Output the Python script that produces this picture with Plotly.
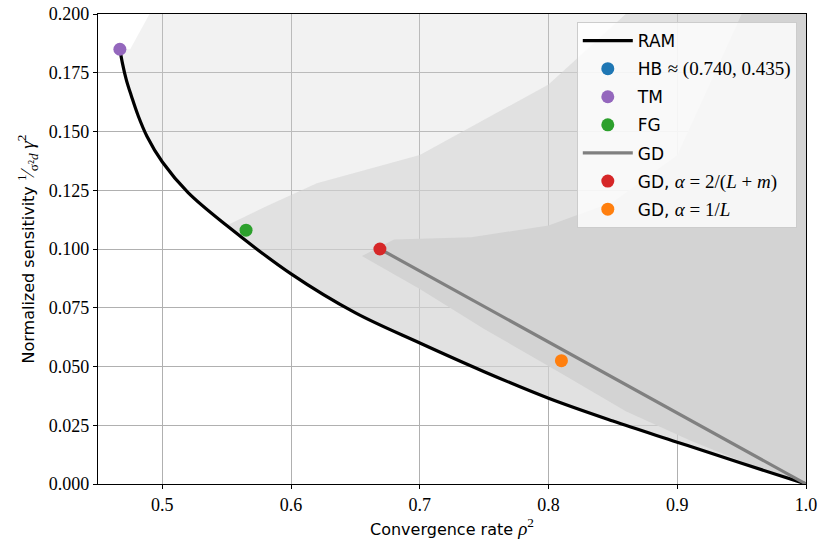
import plotly.graph_objects as go

# RAM frontier
ram_x = [0.467, 0.469, 0.472, 0.476, 0.481, 0.488, 0.500, 0.520, 0.550, 0.600,
         0.650, 0.700, 0.750, 0.800, 0.850, 0.900, 0.950, 1.000]
ram_y = [0.185, 0.179, 0.172, 0.165, 0.157, 0.148, 0.137, 0.124, 0.110, 0.0894,
         0.0728, 0.0600, 0.0478, 0.0365, 0.0268, 0.0178, 0.0088, 0.0]

# GD line
gd_x = [0.669, 1.0]
gd_y = [0.100, 0.0]

# Named points
hb_pt = (0.740, 0.435)
tm_pt = (0.467, 0.185)
fg_pt = (0.565, 0.108)
gd_opt_pt = (0.669, 0.100)
gd_L_pt = (0.810, 0.0525)

# Random-algorithm cloud, approximated by density regions (outlines)
sparse_x = ram_x + [1.0, 0.49, 0.475]
sparse_y = ram_y + [0.2, 0.2, 0.185]

medium_x = [0.55, 0.600, 0.650, 0.700, 0.750, 0.800, 0.850, 0.900, 0.950, 1.0,
            1.0, 0.86, 0.8, 0.7, 0.62, 0.58]
medium_y = [0.110, 0.0894, 0.0728, 0.0600, 0.0478, 0.0365, 0.0268, 0.0178, 0.0088, 0.0,
            0.2, 0.2, 0.17, 0.14, 0.128, 0.118]

dense_x = [0.655, 0.70, 0.75, 0.81, 0.86, 0.91, 0.96, 1.0, 1.0, 0.95, 0.90, 0.85, 0.80, 0.74, 0.68]
dense_y = [0.097, 0.083, 0.066, 0.047, 0.031, 0.0185, 0.0075, 0.0, 0.2, 0.2, 0.14, 0.12, 0.11, 0.105, 0.104]

SERIF = "Liberation Serif"
SANS = "DejaVu Sans"

def math(s):
    return "<span style=\"font-family:'%s';font-size:19px\">%s</span>" % (SERIF, s)

fig = go.Figure()

fig.add_trace(go.Scatter(x=sparse_x, y=sparse_y, fill="toself", mode="none",
                         fillcolor="rgba(211,211,211,0.3)", showlegend=False, hoverinfo="skip"))
fig.add_trace(go.Scatter(x=medium_x, y=medium_y, fill="toself", mode="none",
                         fillcolor="rgba(211,211,211,0.55)", showlegend=False, hoverinfo="skip"))
fig.add_trace(go.Scatter(x=dense_x, y=dense_y, fill="toself", mode="none",
                         fillcolor="rgba(211,211,211,1)", showlegend=False, hoverinfo="skip"))

MS = 13
fig.add_trace(go.Scatter(x=ram_x, y=ram_y, mode="lines", line=dict(color="black", width=3.2, shape="spline"),
                         name="RAM", legendgroup="a"))
fig.add_trace(go.Scatter(x=[hb_pt[0]], y=[hb_pt[1]], mode="markers",
                         marker=dict(color="#1f77b4", size=MS),
                         name="HB " + math("≈ (0.740, 0.435)"), legendgroup="b"))
fig.add_trace(go.Scatter(x=[tm_pt[0]], y=[tm_pt[1]], mode="markers",
                         marker=dict(color="#9467bd", size=MS), name="TM", cliponaxis=False, legendgroup="c"))
fig.add_trace(go.Scatter(x=[fg_pt[0]], y=[fg_pt[1]], mode="markers",
                         marker=dict(color="#2ca02c", size=MS), name="FG", legendgroup="d"))
fig.add_trace(go.Scatter(x=gd_x, y=gd_y, mode="lines", line=dict(color="#808080", width=3.2), name="GD",
                         legendgroup="e"))
fig.add_trace(go.Scatter(x=[gd_opt_pt[0]], y=[gd_opt_pt[1]], mode="markers",
                         marker=dict(color="#d62728", size=MS),
                         name="GD, " + math("<i>α</i> = 2/(<i>L</i> + <i>m</i>)"), legendgroup="f"))
fig.add_trace(go.Scatter(x=[gd_L_pt[0]], y=[gd_L_pt[1]], mode="markers",
                         marker=dict(color="#ff7f0e", size=MS),
                         name="GD, " + math("<i>α</i> = 1/<i>L</i>"), legendgroup="g"))

tick_font = dict(family=SERIF, size=18, color="black")
axis_common = dict(showgrid=True, gridcolor="#b0b0b0", gridwidth=1, showline=True, linecolor="black",
                   linewidth=1.3, mirror=True, ticks="outside", ticklen=4, tickcolor="black",
                   zeroline=False, tickfont=tick_font, automargin=False)

fig.update_layout(
    width=819, height=541,
    margin=dict(l=98, r=13, t=14, b=57),
    plot_bgcolor="white", paper_bgcolor="white",
    font=dict(family=SERIF, size=18, color="black"),
    xaxis=dict(range=[0.45, 1.0], tickvals=[0.5, 0.6, 0.7, 0.8, 0.9, 1.0],
               ticktext=["0.5", "0.6", "0.7", "0.8", "0.9", "1.0"],
               title=dict(text="Convergence rate " + math("<i>ρ</i><sup>2</sup>"),
                          font=dict(family=SANS, size=16, color="black"), standoff=6),
               **axis_common),
    yaxis=dict(range=[0.0, 0.2], tickvals=[0, 0.025, 0.05, 0.075, 0.1, 0.125, 0.15, 0.175, 0.2],
               ticktext=["0.000", "0.025", "0.050", "0.075", "0.100", "0.125", "0.150", "0.175", "0.200"],
               title=dict(text="Normalized sensitivity " +
                          math("<sup>1</sup>⁄<sub>σ²<i>d</i></sub> <i>γ</i><sup>2</sup>"),
                          font=dict(family=SANS, size=16, color="black"), standoff=10),
               **axis_common),
    legend=dict(x=0.987, y=0.983, xanchor="right", yanchor="top",
                bgcolor="rgba(255,255,255,0.8)", bordercolor="#cccccc", borderwidth=1,
                font=dict(family=SANS, size=17, color="black"),
                tracegroupgap=3, itemwidth=50),
)

fig.write_html("out.html", config={"displayModeBar": False},
               post_script="document.body.style.margin='0';")
